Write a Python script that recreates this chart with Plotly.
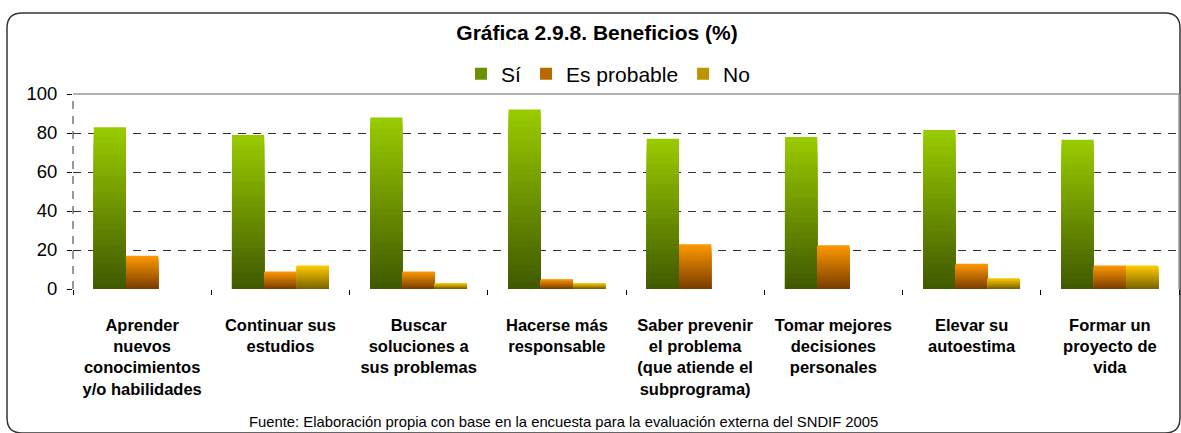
import plotly.graph_objects as go

# ---------------- data ----------------
categories = [
    "Aprender nuevos conocimientos y/o habilidades",
    "Continuar sus estudios",
    "Buscar soluciones a sus problemas",
    "Hacerse más responsable",
    "Saber prevenir el problema (que atiende el subprograma)",
    "Tomar mejores decisiones personales",
    "Elevar su autoestima",
    "Formar un proyecto de vida",
]
tick_labels = [
    "Aprender<br>nuevos<br>conocimientos<br>y/o habilidades",
    "Continuar sus<br>estudios",
    "Buscar<br>soluciones a<br>sus problemas",
    "Hacerse más<br>responsable",
    "Saber prevenir<br>el problema<br>(que atiende el<br>subprograma)",
    "Tomar mejores<br>decisiones<br>personales",
    "Elevar su<br>autoestima",
    "Formar un<br>proyecto de<br>vida",
]
series_names = ["Sí", "Es probable", "No"]
si = [83, 79, 88, 92, 77, 78, 81.5, 76.5]
es_probable = [17, 9, 9, 5, 23, 22.5, 13, 12]
no = [0, 12, 3, 3, 0, 0, 5.5, 12]
y_ticks = [0, 20, 40, 60, 80, 100]

title_text = "Gráfica 2.9.8. Beneficios (%)"
source_text = "Fuente: Elaboración propia con base en la encuesta para la evaluación externa del SNDIF 2005"

# ---------------- styles ----------------
FONT = "Liberation Sans, Arial, sans-serif"
W, H = 1181, 433
ML, MR, MT, MB = 73, 2, 94, 144
PW = W - ML - MR
PH = H - MT - MB

# (top colour, bottom colour) of each series' vertical gradient
gradients = [
    ((0x99, 0xCC, 0x00), (0x40, 0x58, 0x00)),
    ((0xFF, 0x99, 0x00), (0x78, 0x3C, 0x00)),
    ((0xFF, 0xCC, 0x00), (0x7A, 0x62, 0x00)),
]
N_SEG = 30


def mix(c_bottom, c_top, t):
    r = [round(b + (a - b) * t) for a, b in zip(c_top, c_bottom)]
    return "rgb(%d,%d,%d)" % tuple(r)


def px(x):
    return (x - ML) / PW


def py(y):
    return (H - MB - y) / PH


fig = go.Figure()

# each bar is painted as overlaid bars of decreasing height (tallest first),
# so that the visible bands form a vertical gradient without seams
for name, vals, (top, bottom) in zip(series_names, [si, es_probable, no], gradients):
    for k in range(N_SEG):
        frac = (N_SEG - k) / N_SEG
        t = (N_SEG - k - 0.5) / N_SEG
        fig.add_trace(go.Bar(
            x=categories,
            y=[v * frac for v in vals],
            name=name,
            offsetgroup=name,
            legendgroup=name,
            showlegend=(k == N_SEG // 2),
            marker=dict(color=mix(bottom, top, t), line=dict(width=0)),
            hoverinfo="skip",
        ))

# outer rounded frame
x0, y0, x1, y1, r = 7, 13, 1180, 433, 15
frame = (
    f"M {px(x0 + r)},{py(y0)} L {px(x1 - r)},{py(y0)} "
    f"Q {px(x1)},{py(y0)} {px(x1)},{py(y0 + r)} "
    f"L {px(x1)},{py(y1 - r)} Q {px(x1)},{py(y1)} {px(x1 - r)},{py(y1)} "
    f"L {px(x0 + r)},{py(y1)} Q {px(x0)},{py(y1)} {px(x0)},{py(y1 - r)} "
    f"L {px(x0)},{py(y0 + r)} Q {px(x0)},{py(y0)} {px(x0 + r)},{py(y0)} Z"
)

shapes = [
    dict(type="path", path=frame, xref="paper", yref="paper",
         line=dict(color="#333333", width=1.5), layer="below"),
    # plot-area top & right border
    dict(type="line", xref="paper", yref="paper", x0=0, x1=1, y0=1, y1=1,
         line=dict(color="#9a9a9a", width=1.5), layer="above"),
    dict(type="line", xref="paper", yref="paper", x0=1, x1=1, y0=0, y1=1,
         line=dict(color="#9a9a9a", width=1.5), layer="above"),
    # dashed y axis line
    dict(type="line", xref="paper", yref="paper", x0=0, x1=0, y0=0, y1=1,
         line=dict(color="#333333", width=1, dash="8px,7px"), layer="above"),
]

fig.update_layout(
    width=W, height=H,
    margin=dict(l=ML, r=MR, t=MT, b=MB, pad=0),
    paper_bgcolor="white", plot_bgcolor="white",
    barmode="group", bargap=0.3, bargroupgap=0,
    font=dict(family=FONT, color="black"),
    title=dict(text=title_text, x=597 / W, xanchor="center", xref="container",
               y=1 - 33 / H, yanchor="middle", yref="container",
               font=dict(size=21, weight="bold", family=FONT, color="black")),
    legend=dict(orientation="h", x=px(608), xanchor="center", y=py(74), yanchor="middle",
                font=dict(size=21, family=FONT, color="black"),
                bgcolor="rgba(0,0,0,0)", traceorder="normal",
                itemwidth=30, tracegroupgap=0),
    shapes=shapes,
    annotations=[dict(text=source_text, xref="paper", yref="paper",
                      x=px(563), y=py(422), xanchor="center", yanchor="middle",
                      showarrow=False, font=dict(size=14.8, family=FONT, color="black"))],
)

fig.update_xaxes(
    type="category", categoryorder="array", categoryarray=categories,
    tickmode="array", tickvals=categories, ticktext=tick_labels,
    tickson="boundaries", ticks="outside", ticklen=5, tickcolor="black",
    showgrid=False, showline=False, zeroline=False,
    tickfont=dict(size=16.5, weight="bold", family=FONT, color="black"),
    ticklabelstandoff=24,
)
fig.update_yaxes(
    range=[0, 100], tickmode="array", tickvals=y_ticks,
    ticks="outside", ticklen=5, tickcolor="black",
    showgrid=True, gridcolor="#333333", gridwidth=1, griddash="8px,7px",
    showline=False, zeroline=False,
    tickfont=dict(size=18.5, family=FONT, color="black"),
    ticklabelstandoff=6,
)

fig.write_html("out.html", config={"displayModeBar": False},
               post_script="document.body.style.margin='0';")
